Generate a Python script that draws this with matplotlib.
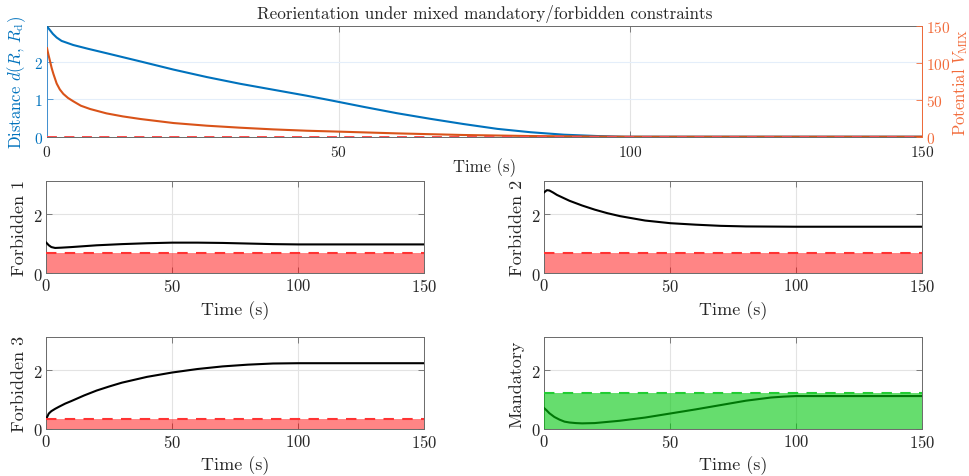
import numpy as np
import matplotlib
matplotlib.use("Agg")
import matplotlib.pyplot as plt

plt.rcParams['font.family'] = 'serif'
plt.rcParams['font.serif'] = ['cmr10', 'DejaVu Serif']
plt.rcParams['mathtext.fontset'] = 'cm'
plt.rcParams['axes.unicode_minus'] = False
plt.rcParams['axes.formatter.use_mathtext'] = True

# ---------------- data ----------------
t_dist = [0, 0.5, 1, 1.66, 2.5, 4.5, 7, 10.2, 16, 21.7, 27.4, 33.1, 38.8, 44.5, 48.5,
          54.3, 60.0, 65.7, 71.4, 77.2, 82.9, 88.6, 94.3, 98.9, 150]
dist = [2.96, 2.86, 2.76, 2.66, 2.57, 2.46, 2.36, 2.24, 2.02, 1.80, 1.60, 1.42, 1.26, 1.10, 0.98,
        0.80, 0.63, 0.48, 0.34, 0.21, 0.12, 0.054, 0.018, 0.0, 0.0]

t_pot = [0, 0.25, 0.5, 0.8, 1.1, 1.66, 2.2, 2.8, 3.6, 4.5, 5.8, 7.4, 10.2, 13, 16, 21.7,
         27.4, 33.1, 38.8, 44.5, 50.3, 60, 71.4, 82.9, 95, 100, 150]
pot = [120, 111, 103, 93, 85, 72, 64, 58, 52.5, 48, 42, 37.5, 31.6, 27.5, 24, 18.5,
       14.9, 12.2, 9.9, 8.1, 6.8, 4.5, 2.3, 0.9, 0.2, 0.0, 0.0]

t_f1 = [0, 1, 2, 3.5, 6, 10, 20, 30, 40, 50, 60, 70, 80, 90, 100, 150]
f1 = [1.04, 0.95, 0.89, 0.86, 0.87, 0.89, 0.95, 0.99, 1.02, 1.04, 1.04, 1.03, 1.01, 0.99, 0.98, 0.98]

t_f2 = [0, 1, 2, 3.5, 5, 7.5, 10, 15, 20, 25, 30, 40, 50, 60, 70, 80, 100, 150]
f2 = [2.75, 2.82, 2.81, 2.74, 2.66, 2.56, 2.46, 2.30, 2.16, 2.04, 1.94, 1.79, 1.70, 1.65,
      1.61, 1.59, 1.58, 1.58]

t_f3 = [0, 0.5, 1, 2, 3.5, 5, 7.5, 10, 15, 20, 25, 30, 40, 50, 60, 70, 80, 90, 100, 150]
f3 = [0.34, 0.43, 0.52, 0.60, 0.68, 0.75, 0.86, 0.95, 1.14, 1.31, 1.45, 1.58, 1.78, 1.93,
      2.05, 2.14, 2.20, 2.24, 2.25, 2.25]

t_m = [0, 1, 2, 4, 6, 8, 10, 12.5, 15, 20, 30, 40, 50, 60, 70, 80, 90, 95, 100, 150]
mand = [0.70, 0.62, 0.53, 0.40, 0.31, 0.24, 0.21, 0.19, 0.18, 0.19, 0.27, 0.38, 0.52, 0.66,
        0.81, 0.96, 1.07, 1.10, 1.12, 1.12]

thr_f1 = 0.69
thr_f2 = 0.69
thr_f3 = 0.33
thr_m = 1.22

t_range = [0, 150]
x_ticks = [0, 50, 100, 150]

# ---------------- style ----------------
BLUE = '#0072BD'
ORANGE = '#D95319'
ORANGE_AX = '#F26B3A'
SPINE = '#6a6a6a'
TXT = '#262626'
GRID = '#e3e3e3'

W, H = 969, 477
fig = plt.figure(figsize=(W / 100, H / 100), dpi=100)


def rect(x0, y0, x1, y1):
    return [x0 / W, 1 - y1 / H, (x1 - x0) / W, (y1 - y0) / H]


def style_box(ax, fs):
    for s in ax.spines.values():
        s.set_color(SPINE)
        s.set_linewidth(0.7)
    ax.tick_params(direction='in', length=4, width=0.6, colors=SPINE,
                   labelcolor=TXT, labelsize=fs, top=True, right=True, pad=3)
    ax.grid(True, color=GRID, linewidth=0.8)
    ax.set_axisbelow(True)


# ---------------- top panel ----------------
ax = fig.add_axes(rect(47, 27, 922, 137.7))
style_box(ax, 11)
ax.tick_params(right=False)
ax.tick_params(axis='x', pad=5)
ax.plot(t_dist, dist, color=BLUE, lw=1.5, zorder=3)
ax.plot(t_range, [0, 0], color='#ff4d4d', lw=1.4, ls=(0, (5, 4)), zorder=4)
ax.set_xlim(t_range)
ax.set_ylim(0, 2.97)
ax.set_xticks(x_ticks)
ax.set_yticks([0, 1, 2])
ax.grid(True, axis='y', color='#e4eefa', linewidth=0.8)
ax.spines['left'].set_color('#3f8fd0')
ax.tick_params(axis='y', colors='#3f8fd0', labelcolor=BLUE)
ax.set_xlabel('Time (s)', fontsize=12, color=TXT)
ax.xaxis.set_label_coords(0.5, -0.19)
ax.set_ylabel(r'Distance $d(R,\,R_{\rm d})$', fontsize=12, color=BLUE)
ax.yaxis.set_label_coords(-0.022, 0.5)
ax.text(0.5, 1.115, 'Reorientation under mixed mandatory/forbidden constraints',
        transform=ax.transAxes, ha='center', va='center', fontsize=12.3, color=TXT)

ax2 = ax.twinx()
ax2.plot(t_pot, pot, color=ORANGE, lw=1.5, zorder=3)
ax2.set_ylim(0, 150)
ax2.set_yticks([0, 50, 100, 150])
for s in ax2.spines.values():
    s.set_visible(False)
ax2.spines['right'].set_visible(True)
ax2.spines['right'].set_color(ORANGE_AX)
ax2.spines['right'].set_linewidth(0.7)
ax2.tick_params(axis='y', direction='in', length=4, width=0.6, colors=ORANGE_AX,
                labelcolor=ORANGE_AX, labelsize=11, pad=3)
ax2.set_ylabel(r'Potential $V_{\rm MIX}$', fontsize=12, color=ORANGE_AX)
ax2.yaxis.set_label_coords(1.032, 0.5)
ax2.plot(t_range, [0, 0], color='#ff4d4d', lw=1.4, ls=(0, (5, 4)), zorder=4)


# ---------------- constraint panels ----------------
def panel(r, tt, yy, thr, label, fill_col, dash_col, fill_on_top=False):
    a = fig.add_axes(rect(*r))
    style_box(a, 12)
    a.plot(tt, yy, color='black', lw=1.5, zorder=3)
    a.fill_between(t_range, [0, 0], [thr, thr], color=fill_col, lw=0,
                   zorder=4 if fill_on_top else 2)
    a.plot(t_range, [thr, thr], color=dash_col, lw=1.5, ls=(0, (5, 4)), zorder=5)
    a.set_xlim(t_range)
    a.set_ylim(0, np.pi)
    a.set_xticks(x_ticks)
    a.set_yticks([0, 2])
    a.set_xlabel('Time (s)', fontsize=13, color=TXT)
    a.xaxis.set_label_coords(0.5, -0.29)
    a.set_ylabel(label, fontsize=13, color=TXT)
    a.yaxis.set_label_coords(-0.052, 0.5)
    return a


RED_FILL = (1.0, 0.0, 0.0, 0.48)
RED_DASH = '#ff3333'
GREEN_FILL = (0.0, 0.78, 0.05, 0.6)
GREEN_DASH = '#22cc33'

panel((46.3, 181.7, 424, 274.3), t_f1, f1, thr_f1, 'Forbidden 1', RED_FILL, RED_DASH)
panel((544.3, 181.7, 922.3, 274.3), t_f2, f2, thr_f2, 'Forbidden 2', RED_FILL, RED_DASH)
panel((46.3, 338.3, 424, 429.6), t_f3, f3, thr_f3, 'Forbidden 3', RED_FILL, RED_DASH)
panel((544.3, 338.3, 922.3, 429.6), t_m, mand, thr_m, 'Mandatory', GREEN_FILL, GREEN_DASH,
      fill_on_top=True)

fig.savefig('out.png', dpi=100)
